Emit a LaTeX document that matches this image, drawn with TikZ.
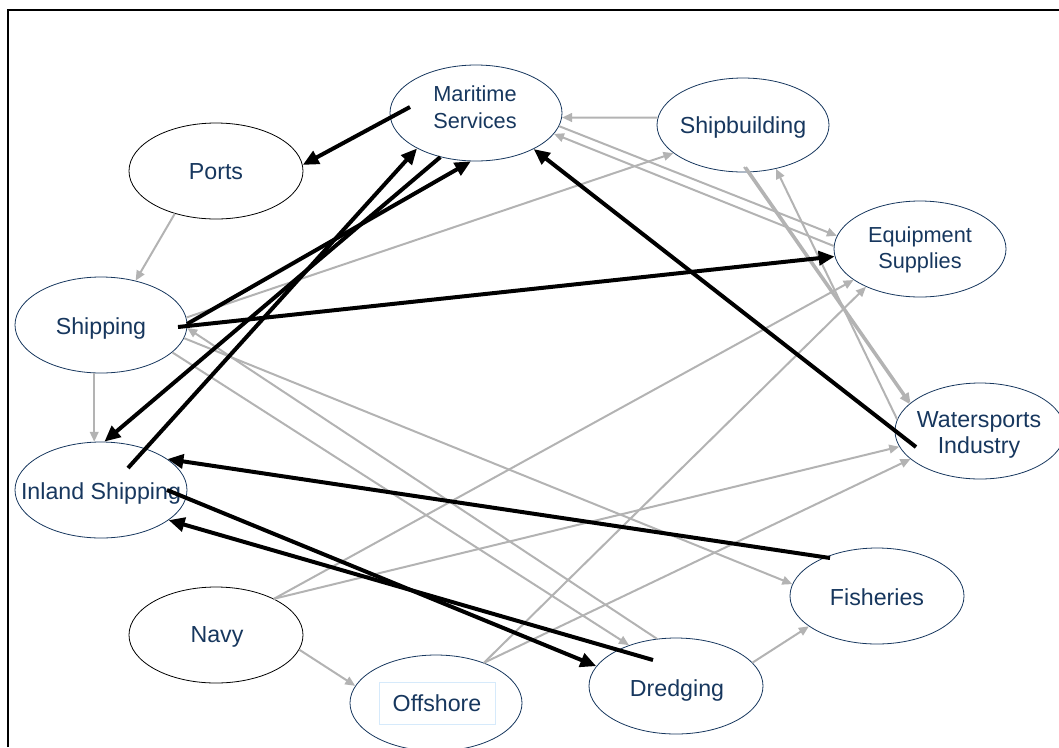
\documentclass[tikz,border=0pt]{standalone}
\usepackage{fontspec}
\setmainfont{Liberation Sans}
\usetikzlibrary{arrows.meta,shapes.geometric,calc}
\definecolor{navy}{HTML}{17375E}
\definecolor{lgray}{HTML}{B3B3B3}
\definecolor{boxblue}{HTML}{D6EAFB}
\begin{document}
\begin{tikzpicture}[x=0.75pt,y=-0.75pt,
  hub/.style={ellipse, draw=navy, line width=0.6pt, minimum width=129pt, minimum height=72pt, inner sep=0pt},
  hubk/.style={hub, draw=black},
  lab/.style={text=navy, align=center, inner sep=0pt, font=\fontsize{17.4}{20}\selectfont},
  labs/.style={lab, font=\fontsize{16.3}{20}\selectfont},
  gr/.style={draw=lgray, line width=1.5pt, -{Triangle[length=7.5pt,width=6.5pt]}},
  bk/.style={draw=black, line width=3pt, -{Triangle[length=12pt,width=10.5pt]}},
  frame/.style={draw=black, line width=1.5pt}
]
\useasboundingbox (0,0) rectangle (1059,747);
\draw[frame] (8,747) -- (8,10) -- (1059,10);

% ellipses
\node[hub] (ms) at (476,113) {};
\node[hub, minimum height=70.5pt] (sb) at (743,125) {};
\node[hub] (es) at (920,249) {};
\node[hub, minimum width=127.5pt] (ws) at (980,431) {};
\node[hub, minimum width=130.5pt] (fi) at (877,596) {};
\node[hub, minimum width=130.5pt] (dr) at (676,686) {};
\node[hub] (of) at (436,703) {};
\node[hubk, minimum width=130.5pt] (na) at (216,635) {};
\node[hubk, minimum width=130.5pt] (po) at (216,171) {};
\node[hub] (sh) at (101,325) {};
\node[hub] (in) at (101,490) {};

% texts
\node[labs] (ms-t) at (475,107) {Maritime\\Services};
\node[lab] (sb-t) at (743,127) {Shipbuilding};
\node[labs] (es-t) at (920,250) {Equipment\\Supplies};
\node[lab] (ws-t) at (979,435) {Watersports\\Industry};
\node[lab] (fi-t) at (877,597) {Fisheries};
\node[lab] (dr-t) at (677,690) {Dredging};
\node[lab, draw=boxblue, line width=0.6pt, minimum width=87pt, minimum height=31.5pt] (of-t) at (437,703) {Offshore};
\node[lab] (na-t) at (217,637) {Navy};
\node[lab] (po-t) at (216,172) {Ports};
\node[lab] (sh-t) at (101,328) {Shipping};
\node[lab] (in-t) at (101,493) {Inland Shipping};

% grey connectors
\draw[gr] (sb.175) -- (ms.-3);
\draw[gr] (po.226) -- (sh.52);
\draw[gr] (sh.262) -- (in.98);
\draw[gr] (na.-10) -- (of.168);
\draw[gr] (dr.17) -- (fi.204);
\draw[gr] (sh.5) -- (sb.202);
\draw[gr] (ms.-9) -- (es.171);
\draw[gr] (es.178) -- (ms.-15);
\draw[gr] ($(sb.center)+(1,42)$) -- (ws.159);
\draw[gr] ($(sb.center)+(3,42)$) -- (ws.158);
\draw[gr] (ws.172) -- (sb.-53);
\draw[gr] (na.32) -- (es.205);
\draw[gr] (na.32) -- (ws.191);
\draw[gr] (of.40) -- (es.215);
\draw[gr] (of.40) -- (ws.202);
\draw[gr] (sh.-9) -- (fi.172);
\draw[gr] (dr.112) -- (sh.-2);
\draw[gr] (sh.-21) -- (dr.139);

% black connectors
\draw[bk] ($(ms.center)+(-66,-6)$) -- (po.4);
\draw[bk] ($(in.center)+(27,-22)$) -- (ms.211);
\draw[bk] (ms.231) -- (in.86);
\draw[bk] ($(sh.center)+(86,-1)$) -- (ms.264);
\draw[bk] ($(sh.center)+(77,2)$) -- (es.185);
\draw[bk] ($(ws.center)+(-64,16)$) -- (ms.-32);
\draw[bk] ($(fi.center)+(-47,-38)$) -- (in.25);
\draw[bk] ($(in.center)+(66,0)$) -- (dr.166);
\draw[bk] ($(dr.center)+(-23,-26)$) -- (in.-24);
\end{tikzpicture}
\end{document}
